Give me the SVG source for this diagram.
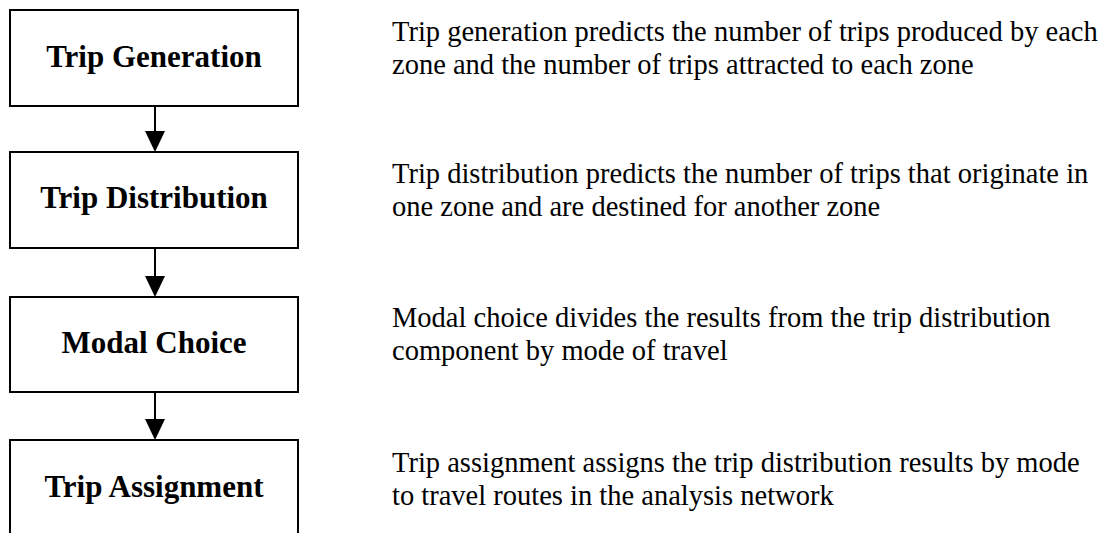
<svg xmlns="http://www.w3.org/2000/svg" width="1104" height="533" viewBox="0 0 1104 533">
<style>
.box{fill:#fff;stroke:#000;stroke-width:2}
.lbl{font-family:"Liberation Serif","Times New Roman",serif;font-weight:bold;font-size:31px;fill:#000;text-anchor:middle}
.desc{font-family:"Liberation Serif","Times New Roman",serif;font-size:28.5px;fill:#000}
.conn{stroke:#000;stroke-width:2;fill:none}
.head{fill:#000}
</style>
<rect width="1104" height="533" fill="#fff"/>
<g id="connectors">
<line class="conn" x1="155" y1="106" x2="155" y2="132"/>
<path class="head" d="M145,131 L165,131 L155,152 Z"/>
<line class="conn" x1="155" y1="248" x2="155" y2="277"/>
<path class="head" d="M145,276 L165,276 L155,297 Z"/>
<line class="conn" x1="155" y1="392" x2="155" y2="420"/>
<path class="head" d="M145,419 L165,419 L155,440 Z"/>
</g>
<g id="node-trip-generation">
<rect class="box" x="10" y="10" width="288" height="96"/>
<text class="lbl" x="154" y="67">Trip Generation</text>
</g>
<g id="node-trip-distribution">
<rect class="box" x="10" y="152" width="288" height="96"/>
<text class="lbl" x="154" y="208">Trip Distribution</text>
</g>
<g id="node-modal-choice">
<rect class="box" x="10" y="297" width="288" height="95"/>
<text class="lbl" x="154" y="353">Modal Choice</text>
</g>
<g id="node-trip-assignment">
<rect class="box" x="10" y="440" width="288" height="100"/>
<text class="lbl" x="154" y="497">Trip Assignment</text>
</g>
<g id="desc-trip-generation">
<text class="desc" x="392" y="41">Trip generation predicts the number of trips produced by each</text>
<text class="desc" x="392" y="74">zone and the number of trips attracted to each zone</text>
</g>
<g id="desc-trip-distribution">
<text class="desc" x="392" y="183">Trip distribution predicts the number of trips that originate in</text>
<text class="desc" x="392" y="216">one zone and are destined for another zone</text>
</g>
<g id="desc-modal-choice">
<text class="desc" x="392" y="327">Modal choice divides the results from the trip distribution</text>
<text class="desc" x="392" y="360">component by mode of travel</text>
</g>
<g id="desc-trip-assignment">
<text class="desc" x="392" y="472">Trip assignment assigns the trip distribution results by mode</text>
<text class="desc" x="392" y="505">to travel routes in the analysis network</text>
</g>
</svg>
